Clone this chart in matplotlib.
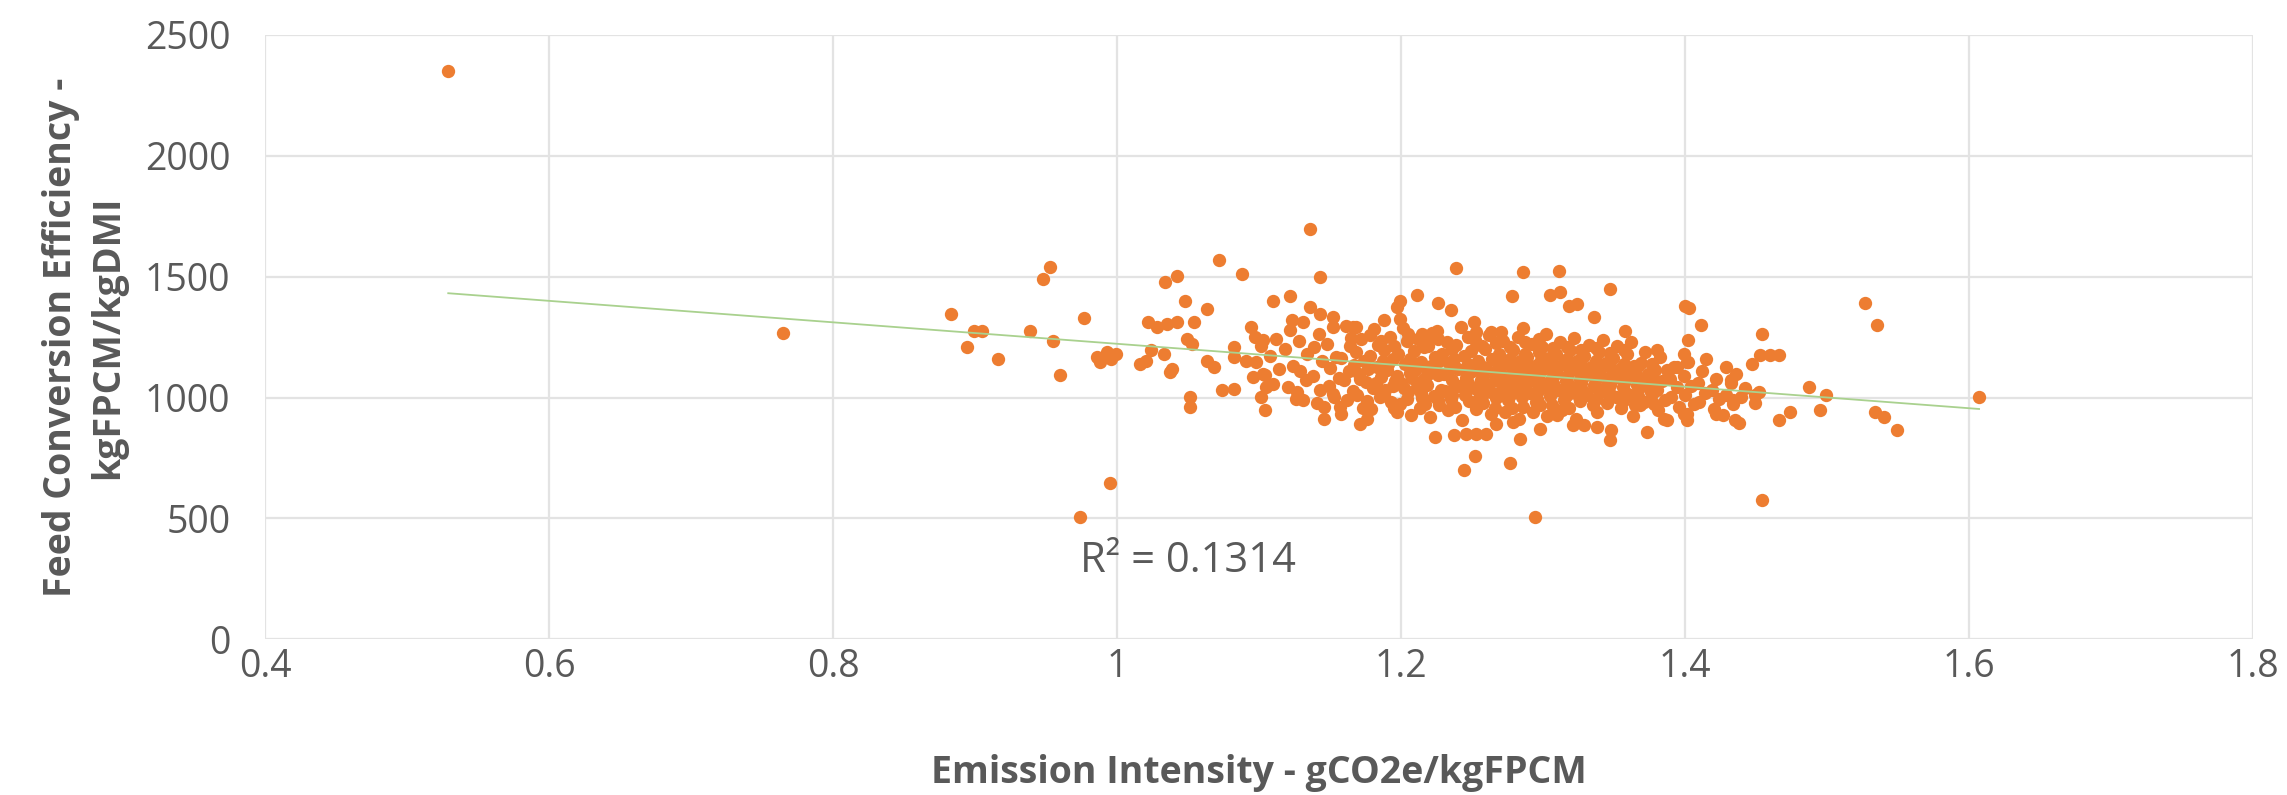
import matplotlib
matplotlib.use("Agg")
import matplotlib.pyplot as plt
import numpy as np

# ------------------------------------------------------------
# Data (x: gCO2e/kgFPCM, y: kgFPCM/kgDMI)
# ------------------------------------------------------------
outlier_points = [
    (0.529, 2350), (0.765, 1268),
    (0.883, 1346), (0.899, 1277), (0.905, 1277), (0.894, 1208), (0.916, 1160),
    (0.939, 1274), (0.948, 1491), (0.953, 1542), (0.955, 1232), (0.960, 1095),
    (0.977, 1328), (0.974, 506), (0.995, 646),
    (0.986, 1167), (0.993, 1188), (0.999, 1181), (0.988, 1146), (0.996, 1160),
    (1.016, 1139), (1.020, 1153), (1.022, 1312), (1.028, 1291), (1.035, 1305),
    (1.042, 1312), (1.054, 1312), (1.024, 1195), (1.033, 1181), (1.039, 1119),
    (1.037, 1105), (1.034, 1477), (1.042, 1504), (1.048, 1401), (1.049, 1243),
    (1.053, 1222), (1.063, 1367), (1.072, 1571), (1.088, 1511), (1.051, 1002),
    (1.051, 960), (1.074, 1029), (1.082, 1036), (1.063, 1153), (1.068, 1126),
    (1.082, 1208), (1.082, 1167), (1.094, 1291), (1.097, 1250), (1.103, 1236),
    (1.091, 1153), (1.096, 1084), (1.103, 1098), (1.105, 1043), (1.101, 1002),
    (1.104, 947), (1.110, 1401), (1.122, 1422), (1.136, 1697), (1.143, 1498),
    (1.136, 1374), (1.143, 1346), (1.152, 1332), (1.123, 1319), (1.131, 988),
    (1.146, 960), (1.146, 912), (1.158, 933), (1.171, 892), (1.176, 912),
    (1.166, 1291), (1.178, 1257), (1.188, 1319), (1.197, 1374), (1.152, 1016),
    (1.239, 1536), (1.286, 1518), (1.311, 1525), (1.347, 1449), (1.400, 1380),
    (1.403, 1370), (1.411, 1301), (1.454, 1261), (1.402, 1236), (1.358, 1274),
    (1.336, 1335), (1.305, 1426), (1.312, 1436), (1.318, 1380), (1.324, 1387),
    (1.278, 1419), (1.286, 1287), (1.251, 1312), (1.253, 1270), (1.263, 1270),
    (1.270, 1270), (1.211, 1426), (1.199, 1401), (1.226, 1390), (1.235, 1360),
    (1.199, 1325), (1.168, 1291), (1.215, 1263), (1.220, 1250), (1.225, 1277),
    (1.487, 1043), (1.499, 1009), (1.495, 947), (1.466, 905), (1.474, 940),
    (1.454, 575), (1.435, 905), (1.438, 895), (1.422, 933), (1.427, 926),
    (1.449, 1009), (1.434, 988), (1.453, 1174), (1.460, 1174), (1.466, 1174),
    (1.447, 1139), (1.436, 1098), (1.432, 1071), (1.429, 1126), (1.415, 1160),
    (1.399, 1181), (1.401, 1146), (1.394, 1126), (1.387, 1112), (1.380, 1195),
    (1.399, 933), (1.401, 905), (1.373, 857), (1.387, 905), (1.348, 864),
    (1.347, 823), (1.338, 878), (1.329, 885), (1.321, 885), (1.310, 926),
    (1.298, 871), (1.284, 830), (1.277, 729), (1.294, 506), (1.252, 757),
    (1.244, 699), (1.224, 836), (1.237, 843), (1.246, 850), (1.253, 850),
    (1.260, 850), (1.267, 892), (1.279, 898),
    (1.534, 939), (1.540, 918), (1.549, 866), (1.607, 1001), (1.527, 1390),
    (1.535, 1300),
]

core_points = [
    (1.101, 1213), (1.098, 1148), (1.104, 1092),
    (1.112, 1244), (1.108, 1173), (1.114, 1118), (1.110, 1057),
    (1.122, 1278), (1.118, 1201), (1.124, 1132), (1.120, 1042), (1.126, 992),
    (1.131, 1314), (1.128, 1233), (1.134, 1178), (1.129, 1109), (1.133, 1072), (1.127, 1023),
    (1.142, 1262), (1.139, 1208), (1.144, 1151), (1.138, 1088), (1.143, 1033), (1.141, 978),
    (1.152, 1292), (1.148, 1223), (1.154, 1167), (1.150, 1122), (1.156, 1081), (1.149, 1048),
    (1.153, 1002), (1.157, 961),
    (1.161, 1297), (1.164, 1212), (1.158, 1163), (1.163, 1108), (1.160, 1072), (1.166, 1028),
    (1.162, 988),
    (1.172, 1243), (1.168, 1188), (1.174, 1152), (1.170, 1098), (1.175, 1063), (1.169, 1012),
    (1.173, 958),
    (1.181, 1282), (1.184, 1218), (1.178, 1172), (1.183, 1127), (1.186, 1083), (1.180, 1038),
    (1.185, 1001), (1.179, 952),
    (1.192, 1252), (1.188, 1198), (1.194, 1161), (1.190, 1112), (1.196, 1068), (1.189, 1029),
    (1.193, 983), (1.197, 938),
    (1.201, 1288), (1.204, 1232), (1.198, 1181), (1.203, 1138), (1.206, 1102), (1.200, 1058),
    (1.205, 1021), (1.199, 972), (1.207, 928),
    (1.212, 1241), (1.209, 1192), (1.214, 1148), (1.210, 1112), (1.216, 1078), (1.211, 1042),
    (1.215, 998), (1.213, 958),
    (1.222, 1268), (1.219, 1212), (1.224, 1168), (1.221, 1131), (1.226, 1092), (1.218, 1052),
    (1.223, 1008), (1.227, 968), (1.220, 918),
    (1.232, 1228), (1.229, 1182), (1.234, 1141), (1.230, 1098), (1.236, 1071), (1.231, 1028),
    (1.235, 992), (1.233, 948),
    (1.242, 1292), (1.239, 1219), (1.244, 1172), (1.240, 1118), (1.246, 1082), (1.241, 1048),
    (1.245, 1012), (1.238, 962), (1.243, 908),
    (1.252, 1238), (1.249, 1192), (1.254, 1152), (1.250, 1108), (1.256, 1072), (1.251, 1038),
    (1.255, 998), (1.253, 952),
    (1.262, 1258), (1.259, 1202), (1.264, 1158), (1.260, 1122), (1.266, 1088), (1.261, 1052),
    (1.265, 1018), (1.258, 978), (1.263, 932),
    (1.272, 1232), (1.269, 1178), (1.274, 1142), (1.270, 1098), (1.276, 1062), (1.271, 1028),
    (1.275, 988), (1.273, 942),
    (1.282, 1252), (1.279, 1198), (1.284, 1152), (1.280, 1108), (1.286, 1078), (1.281, 1042),
    (1.285, 1002), (1.278, 958), (1.283, 912),
    (1.292, 1222), (1.289, 1168), (1.294, 1132), (1.290, 1088), (1.296, 1058), (1.291, 1018),
    (1.295, 982), (1.293, 938),
    (1.302, 1262), (1.299, 1208), (1.304, 1162), (1.300, 1118), (1.306, 1082), (1.301, 1048),
    (1.305, 1008), (1.298, 968), (1.303, 922),
    (1.312, 1228), (1.309, 1182), (1.314, 1138), (1.310, 1102), (1.316, 1068), (1.311, 1032),
    (1.315, 988), (1.313, 948),
    (1.322, 1248), (1.319, 1198), (1.324, 1152), (1.320, 1112), (1.326, 1078), (1.321, 1038),
    (1.325, 1002), (1.318, 958), (1.323, 912),
    (1.332, 1218), (1.329, 1172), (1.334, 1128), (1.330, 1092), (1.336, 1052), (1.331, 1012),
    (1.335, 968),
    (1.342, 1238), (1.339, 1188), (1.344, 1142), (1.340, 1098), (1.346, 1062), (1.341, 1022),
    (1.345, 978), (1.338, 938),
    (1.352, 1212), (1.349, 1162), (1.354, 1118), (1.350, 1082), (1.356, 1042), (1.351, 1002),
    (1.355, 958),
    (1.362, 1228), (1.359, 1178), (1.364, 1132), (1.360, 1088), (1.366, 1052), (1.361, 1012),
    (1.365, 968), (1.363, 922),
    (1.372, 1188), (1.369, 1142), (1.374, 1098), (1.370, 1058), (1.376, 1022), (1.371, 982),
    (1.382, 1168), (1.379, 1112), (1.384, 1068), (1.380, 1032), (1.386, 988), (1.381, 948),
    (1.385, 912),
    (1.392, 1128), (1.389, 1078), (1.394, 1042), (1.390, 1002), (1.396, 962),
    (1.402, 1148), (1.399, 1088), (1.404, 1048), (1.400, 1012), (1.406, 972), (1.401, 932),
    (1.412, 1108), (1.409, 1062), (1.414, 1018), (1.410, 982),
    (1.422, 1078), (1.419, 1032), (1.424, 992), (1.420, 952),
    (1.432, 1058), (1.429, 1012), (1.434, 972),
    (1.442, 1038), (1.439, 1002),
    (1.452, 1022), (1.449, 978),
]

# the solid middle of the cloud (1.16 - 1.38)
dense_points = [
    (1.165, 1245), (1.167, 1135), (1.171, 1075), (1.177, 1118), (1.176, 985),
    (1.186, 1232), (1.187, 1150), (1.182, 1062), (1.188, 1010),
    (1.195, 1212), (1.191, 1138), (1.197, 1088), (1.194, 1046), (1.195, 958),
    (1.205, 1262), (1.206, 1160), (1.208, 1080), (1.202, 1040), (1.204, 995),
    (1.216, 1210), (1.217, 1128), (1.218, 1095), (1.214, 1020), (1.217, 975),
    (1.226, 1240), (1.227, 1150), (1.224, 1112), (1.228, 1030), (1.226, 990),
    (1.236, 1200), (1.237, 1160), (1.235, 1120), (1.238, 1050), (1.236, 1010),
    (1.247, 1250), (1.247, 1140), (1.248, 1100), (1.247, 1062), (1.248, 985),
    (1.257, 1215), (1.256, 1130), (1.258, 1090), (1.257, 1055), (1.258, 1015),
    (1.267, 1225), (1.268, 1140), (1.267, 1105), (1.268, 1070), (1.267, 1000), (1.266, 958),
    (1.277, 1210), (1.277, 1160), (1.278, 1120), (1.278, 1080), (1.277, 1045), (1.277, 1010),
    (1.287, 1230), (1.287, 1180), (1.288, 1130), (1.287, 1095), (1.288, 1060), (1.287, 1022),
    (1.286, 962),
    (1.297, 1240), (1.297, 1188), (1.298, 1145), (1.297, 1100), (1.298, 1070), (1.297, 1030),
    (1.296, 995),
    (1.307, 1205), (1.307, 1140), (1.308, 1098), (1.307, 1060), (1.308, 1025), (1.306, 970),
    (1.317, 1210), (1.317, 1160), (1.318, 1120), (1.317, 1085), (1.318, 1050), (1.317, 1012),
    (1.327, 1195), (1.327, 1135), (1.328, 1100), (1.327, 1062), (1.328, 1025), (1.326, 985),
    (1.337, 1205), (1.337, 1150), (1.338, 1112), (1.337, 1075), (1.338, 1040), (1.337, 995),
    (1.347, 1185), (1.347, 1125), (1.348, 1085), (1.347, 1050), (1.348, 1012),
    (1.357, 1195), (1.357, 1140), (1.358, 1100), (1.357, 1062), (1.358, 1022), (1.356, 985),
    (1.367, 1130), (1.367, 1085), (1.368, 1045), (1.367, 1008), (1.368, 970),
    (1.377, 1140), (1.377, 1090), (1.378, 1055), (1.377, 1015), (1.378, 975),
]

r2_label = "R\u00b2 = 0.1314"
x_ticks = [0.4, 0.6, 0.8, 1.0, 1.2, 1.4, 1.6, 1.8]
x_tick_labels = ["0.4", "0.6", "0.8", "1", "1.2", "1.4", "1.6", "1.8"]
y_ticks = [0, 500, 1000, 1500, 2000, 2500]
x_label = "Emission Intensity - gCO2e/kgFPCM"
y_label = "Feed Conversion Efficiency -\nkgFPCM/kgDMI"


def main() -> None:
    pts = np.array(outlier_points + core_points + dense_points, dtype=float)
    x, y = pts[:, 0], pts[:, 1]

    plt.rcParams["font.family"] = ["Open Sans", "DejaVu Sans"]
    text_grey = "#595959"

    fig = plt.figure(figsize=(22.87, 7.95), dpi=100)
    ax = fig.add_axes([0.1159, 0.196, 0.9852 - 0.1159, 0.956 - 0.196])

    ax.scatter(x, y, s=92, color="#ED7D31", linewidths=0, zorder=3)

    # linear trend line over the data range
    slope, intercept = np.polyfit(x, y, 1)
    xs = np.array([x.min(), x.max()])
    ax.plot(xs, slope * xs + intercept, color="#A9D18E", lw=1.3, zorder=4)

    ax.text(0.974, 322, r2_label, fontsize=30, color=text_grey,
            ha="left", va="center", zorder=5)

    ax.set_xlim(0.4, 1.8)
    ax.set_ylim(0, 2500)
    ax.set_xticks(x_ticks)
    ax.set_xticklabels(x_tick_labels)
    ax.set_yticks(y_ticks)

    ax.grid(True, color="#E3E3E3", lw=1.6, zorder=0)
    ax.set_axisbelow(True)
    for s in ax.spines.values():
        s.set_visible(False)
    ax.tick_params(length=0, labelsize=27, colors=text_grey)
    ax.tick_params(axis="x", pad=6)
    ax.tick_params(axis="y", pad=25)

    ax.set_xlabel(x_label, fontsize=27, color=text_grey, fontweight="bold", va="center")
    ax.xaxis.set_label_coords(0.5, -0.222)
    ax.set_ylabel(y_label, fontsize=27, color=text_grey, fontweight="bold",
                  va="center", ha="center", linespacing=1.32)
    ax.yaxis.set_label_coords(-0.091, 0.5)

    fig.savefig("out.png", dpi=100, facecolor="white")
    plt.close(fig)


if __name__ == "__main__":
    main()
